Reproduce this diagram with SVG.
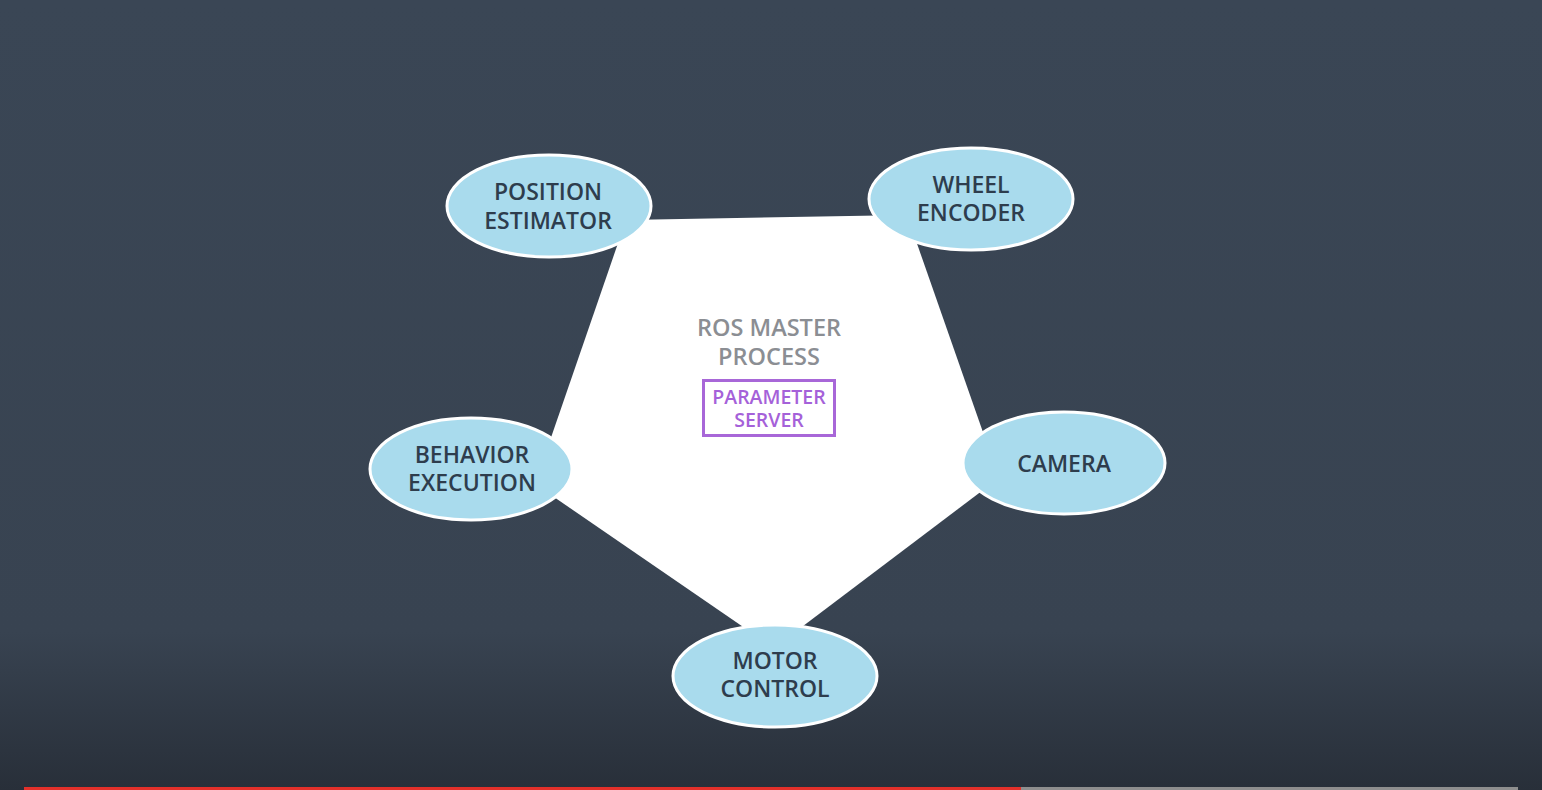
<svg xmlns="http://www.w3.org/2000/svg" width="1542" height="790" viewBox="0 0 1542 790">
  <defs>
    <linearGradient id="bg" x1="0" y1="0" x2="0" y2="790" gradientUnits="userSpaceOnUse">
      <stop offset="0" stop-color="#3a4655"/>
      <stop offset="0.8" stop-color="#384351"/>
      <stop offset="1" stop-color="#282f39"/>
    </linearGradient>
    <style>
      .node ellipse { fill: #a9dbed; stroke: #ffffff; stroke-width: 3; }
      .label { font-family: "Open Sans", "Noto Sans", "Liberation Sans", sans-serif; font-weight: 600; font-size: 23px; fill: #2e3d4d; text-anchor: middle; }
      .master { font-family: "Open Sans", "Noto Sans", "Liberation Sans", sans-serif; font-weight: 600; font-size: 23.5px; fill: #8b8e93; text-anchor: middle; }
      .param { font-family: "Open Sans", "Noto Sans", "Liberation Sans", sans-serif; font-weight: 600; font-size: 19.5px; fill: #a561d9; text-anchor: middle; }
    </style>
  </defs>
  <rect x="0" y="0" width="1542" height="790" fill="url(#bg)"/>

  <g id="connectors">
    <polygon points="626,220 907,215 999,478 774,648 535,484" fill="#ffffff"/>
  </g>

  <g id="ros-master">
    <text class="master" x="769" y="336">ROS MASTER</text>
    <text class="master" x="769" y="365">PROCESS</text>
  </g>

  <g id="parameter-server">
    <rect x="703.5" y="380.5" width="131" height="55" fill="none" stroke="#a867d8" stroke-width="3"/>
    <text class="param" x="769" y="404">PARAMETER</text>
    <text class="param" x="769" y="427">SERVER</text>
  </g>

  <g id="position-estimator" class="node">
    <ellipse cx="549" cy="206" rx="102" ry="51"/>
    <text class="label" x="548" y="200">POSITION</text>
    <text class="label" x="548" y="229">ESTIMATOR</text>
  </g>

  <g id="wheel-encoder" class="node">
    <ellipse cx="971" cy="199" rx="102" ry="51"/>
    <text class="label" x="971" y="193">WHEEL</text>
    <text class="label" x="971" y="221">ENCODER</text>
  </g>

  <g id="behavior-execution" class="node">
    <ellipse cx="471" cy="469" rx="101" ry="51"/>
    <text class="label" x="472" y="463">BEHAVIOR</text>
    <text class="label" x="472" y="491">EXECUTION</text>
  </g>

  <g id="camera" class="node">
    <ellipse cx="1064" cy="463" rx="101" ry="51"/>
    <text class="label" x="1064" y="472">CAMERA</text>
  </g>

  <g id="motor-control" class="node">
    <ellipse cx="775" cy="676" rx="102" ry="51"/>
    <text class="label" x="775" y="669">MOTOR</text>
    <text class="label" x="775" y="697">CONTROL</text>
  </g>

  <g id="progress-bar">
    <rect x="24" y="787" width="997" height="3" fill="#e3302a"/>
    <rect x="1021" y="787" width="497" height="3" fill="#8e8e8e"/>
  </g>
</svg>
